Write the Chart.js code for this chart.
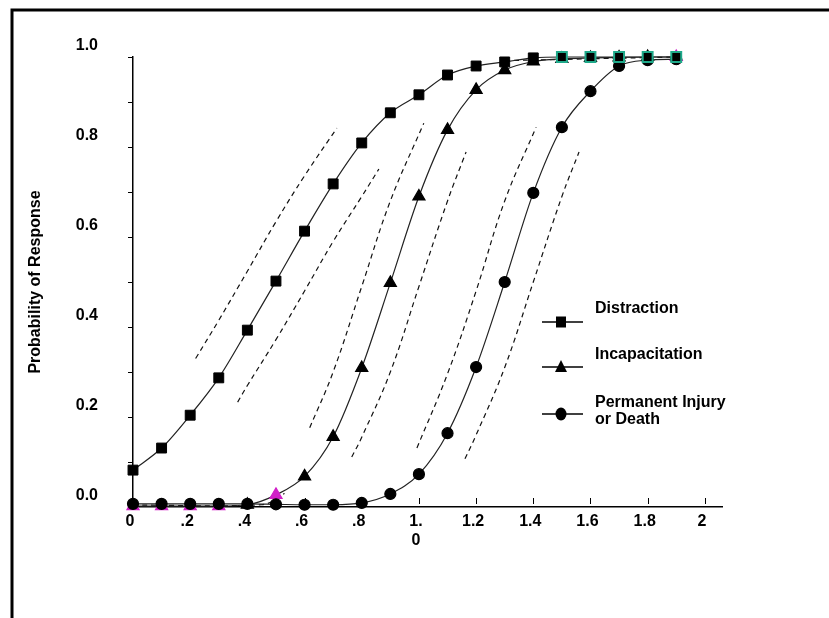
<!DOCTYPE html>
<html>
<head>
<meta charset="utf-8">
<script src="https://cdn.jsdelivr.net/npm/chart.js@4.4.1/dist/chart.umd.min.js"></script>
<style>
  html, body { margin: 0; padding: 0; background: #fff; }
  #wrap { width: 829px; height: 618px; }
</style>
</head>
<body>
<div id="wrap"><canvas id="chart" width="829" height="618"></canvas></div>
<script>
// dose values (x) and probability of response for each curve
const doses = [0, 0.1, 0.2, 0.3, 0.4, 0.5, 0.6, 0.7, 0.8, 0.9, 1.0, 1.1, 1.2, 1.3, 1.4, 1.5, 1.6, 1.7, 1.8, 1.9];
const distraction = [0.082, 0.131, 0.204, 0.287, 0.393, 0.502, 0.613, 0.718, 0.809, 0.876, 0.916, 0.96, 0.98, 0.989, 0.998, 1.0, 1.0, 1.0, 1.0, 1.0];
const incapacitation = [0.002, 0.002, 0.002, 0.002, 0.005, 0.027, 0.068, 0.156, 0.309, 0.498, 0.69, 0.838, 0.927, 0.971, 0.99, 0.996, 0.998, 0.999, 1.0, 1.0];
const injury = [0.007, 0.007, 0.007, 0.007, 0.007, 0.006, 0.005, 0.005, 0.009, 0.029, 0.073, 0.164, 0.311, 0.5, 0.698, 0.844, 0.924, 0.98, 0.993, 0.995];

// dashed confidence bounds, [x, y]
const distUpper = [[0.219, 0.33], [0.3, 0.415], [0.4, 0.524], [0.5, 0.634], [0.6, 0.736], [0.713, 0.842]];
const distLower = [[0.366, 0.233], [0.4, 0.27], [0.5, 0.372], [0.6, 0.48], [0.7, 0.59], [0.8, 0.69], [0.86, 0.751]];
const incapUpper = [[0.618, 0.176], [0.7, 0.3], [0.8, 0.49], [0.9, 0.68], [1.017, 0.853]];
const incapLower = [[0.765, 0.111], [0.8, 0.155], [0.9, 0.3], [1.0, 0.49], [1.1, 0.68], [1.165, 0.789]];
const injUpper = [[0.993, 0.131], [1.1, 0.296], [1.2, 0.48], [1.3, 0.68], [1.41, 0.844]];
const injLower = [[1.161, 0.107], [1.2, 0.16], [1.3, 0.31], [1.4, 0.5], [1.5, 0.69], [1.56, 0.789]];
const topBound = [[1.3, 0.992], [1.9, 1.0]];
const bottomBound = [[0, 0.004], [0.45, 0.005], [0.53, 0.03]];

const xTicks = [0, 0.2, 0.4, 0.6, 0.8, 1.0, 1.2, 1.4, 1.6, 1.8, 2.0];
const xTickLabels = ["0", ".2", ".4", ".6", ".8", ["1.", "0"], "1.2", "1.4", "1.6", "1.8", "2"];
const yTicks = [0, 0.1, 0.2, 0.3, 0.4, 0.5, 0.6, 0.7, 0.8, 0.9, 1.0];
const yTickLabels = ["0.0", "", "0.2", "", "0.4", "", "0.6", "", "0.8", "", "1.0"];

const legendItems = ["Distraction", "Incapacitation", ["Permanent Injury", "or Death"]];

const TEAL = "#1fa98a";
const MAGENTA = "#d11fc8";
const FONT = "'Liberation Sans', Arial, sans-serif";

const toPts = (arr) => arr.map((p) => ({ x: p[0], y: p[1] }));
const curvePts = (vals) => doses.map((d, i) => ({ x: d, y: vals[i] }));

function dashed(points) {
  return {
    data: toPts(points),
    borderColor: "#111",
    borderWidth: 1.2,
    borderDash: [5, 4],
    pointRadius: 0,
    tension: 0.4,
    fill: false,
    order: 5,
    clip: false,
  };
}

function drawMarker(ctx, style, x, y) {
  ctx.beginPath();
  if (style === "rect") {
    ctx.rect(x - 5, y - 5.5, 10, 11);
  } else if (style === "triangle") {
    ctx.moveTo(x, y - 7);
    ctx.lineTo(x + 6, y + 5);
    ctx.lineTo(x - 6, y + 5);
    ctx.closePath();
  } else {
    ctx.ellipse(x, y, 5.5, 6.5, 0, 0, Math.PI * 2);
  }
  ctx.fill();
}

const decorPlugin = {
  id: "decor",
  afterDraw(chart) {
    const ctx = chart.ctx;
    const xs = chart.scales.x;
    const bottom = chart.chartArea.bottom;
    ctx.save();

    // frame round the figure
    ctx.strokeStyle = "#000";
    ctx.lineWidth = 3;
    ctx.beginPath();
    ctx.moveTo(12, 618);
    ctx.lineTo(12, 10);
    ctx.lineTo(829, 10);
    ctx.stroke();

    // small x ticks sitting above the axis
    ctx.lineWidth = 1;
    xTicks.forEach((v) => {
      const px = Math.round(xs.getPixelForValue(v)) + 0.5;
      ctx.beginPath();
      ctx.moveTo(px, bottom - 9);
      ctx.lineTo(px, bottom - 3);
      ctx.stroke();
    });

    // legend
    const styles = ["rect", "triangle", "circle"];
    const lineY = [322, 367, 414];
    const textY = [309, 355, [403, 420]];
    ctx.fillStyle = "#000";
    ctx.lineWidth = 1.3;
    ctx.font = "bold 16px " + FONT;
    ctx.textBaseline = "middle";
    ctx.textAlign = "left";
    legendItems.forEach((label, i) => {
      ctx.beginPath();
      ctx.moveTo(542, lineY[i]);
      ctx.lineTo(583, lineY[i]);
      ctx.stroke();
      drawMarker(ctx, styles[i], 561, lineY[i]);
      if (Array.isArray(label)) {
        label.forEach((l, j) => ctx.fillText(l, 595, textY[i][j]));
      } else {
        ctx.fillText(label, 595, textY[i]);
      }
    });
    ctx.restore();
  },
};

new Chart(document.getElementById("chart"), {
  type: "line",
  data: {
    datasets: [
      {
        label: "Distraction",
        data: curvePts(distraction),
        borderColor: "#222",
        borderWidth: 1.2,
        pointStyle: "rect",
        pointRadius: 7,
        pointBackgroundColor: "#000",
        pointBorderColor: doses.map((d) => (d >= 1.45 ? TEAL : "#000")),
        pointBorderWidth: doses.map((d) => (d >= 1.45 ? 2 : 1)),
        tension: 0.4,
        cubicInterpolationMode: "monotone",
        order: 0,
        clip: false,
      },
      {
        label: "Permanent Injury or Death",
        data: curvePts(injury),
        borderColor: "#222",
        borderWidth: 1.2,
        pointStyle: "circle",
        pointRadius: 5.5,
        pointBackgroundColor: "#000",
        pointBorderColor: "#000",
        tension: 0.4,
        cubicInterpolationMode: "monotone",
        order: 1,
        clip: false,
      },
      {
        label: "Incapacitation",
        data: curvePts(incapacitation),
        borderColor: "#222",
        borderWidth: 1.2,
        pointStyle: "triangle",
        pointRadius: 7,
        pointBackgroundColor: doses.map((d, i) => ([0, 1, 2, 3, 5, 19].includes(i) ? MAGENTA : "#000")),
        pointBorderColor: doses.map((d, i) => ([0, 1, 2, 3, 5, 19].includes(i) ? MAGENTA : "#000")),
        tension: 0.4,
        cubicInterpolationMode: "monotone",
        order: 2,
        clip: false,
      },
      dashed(distUpper),
      dashed(distLower),
      dashed(incapUpper),
      dashed(incapLower),
      dashed(injUpper),
      dashed(injLower),
      dashed(topBound),
      dashed(bottomBound),
    ],
  },
  options: {
    responsive: false,
    animation: false,
    layout: { padding: { left: 0, top: 57, right: 107, bottom: 0 } },
    plugins: {
      legend: { display: false },
      tooltip: { enabled: false },
    },
    scales: {
      x: {
        type: "linear",
        min: 0,
        max: 2.06,
        afterBuildTicks: (scale) => {
          scale.ticks = xTicks.map((v) => ({ value: v }));
        },
        afterFit: (scale) => {
          scale.height = 111;
        },
        ticks: {
          autoSkip: false,
          maxRotation: 0,
          padding: 5,
          labelOffset: -3,
          color: "#000",
          font: { family: FONT, size: 16, weight: "bold" },
          callback: (v, i) => xTickLabels[i],
        },
        grid: { display: false, drawTicks: false },
        border: { display: true, color: "#000", width: 1.5 },
      },
      y: {
        type: "linear",
        min: 0,
        max: 1.0,
        afterBuildTicks: (scale) => {
          scale.ticks = yTicks.map((v) => ({ value: v }));
        },
        afterFit: (scale) => {
          scale.width = 133;
        },
        ticks: {
          autoSkip: false,
          padding: 30,
          labelOffset: -11,
          color: "#000",
          font: { family: FONT, size: 16, weight: "bold" },
          callback: (v, i) => yTickLabels[i],
        },
        grid: { drawOnChartArea: false, tickLength: 5, color: "#000", lineWidth: 1 },
        border: { display: true, color: "#000", width: 1.5 },
        title: {
          display: true,
          text: "Probability of Response",
          color: "#000",
          font: { family: FONT, size: 16, weight: "bold" },
          padding: { top: 26, bottom: 0 },
        },
      },
    },
  },
  plugins: [decorPlugin],
});
</script>
</body>
</html>
